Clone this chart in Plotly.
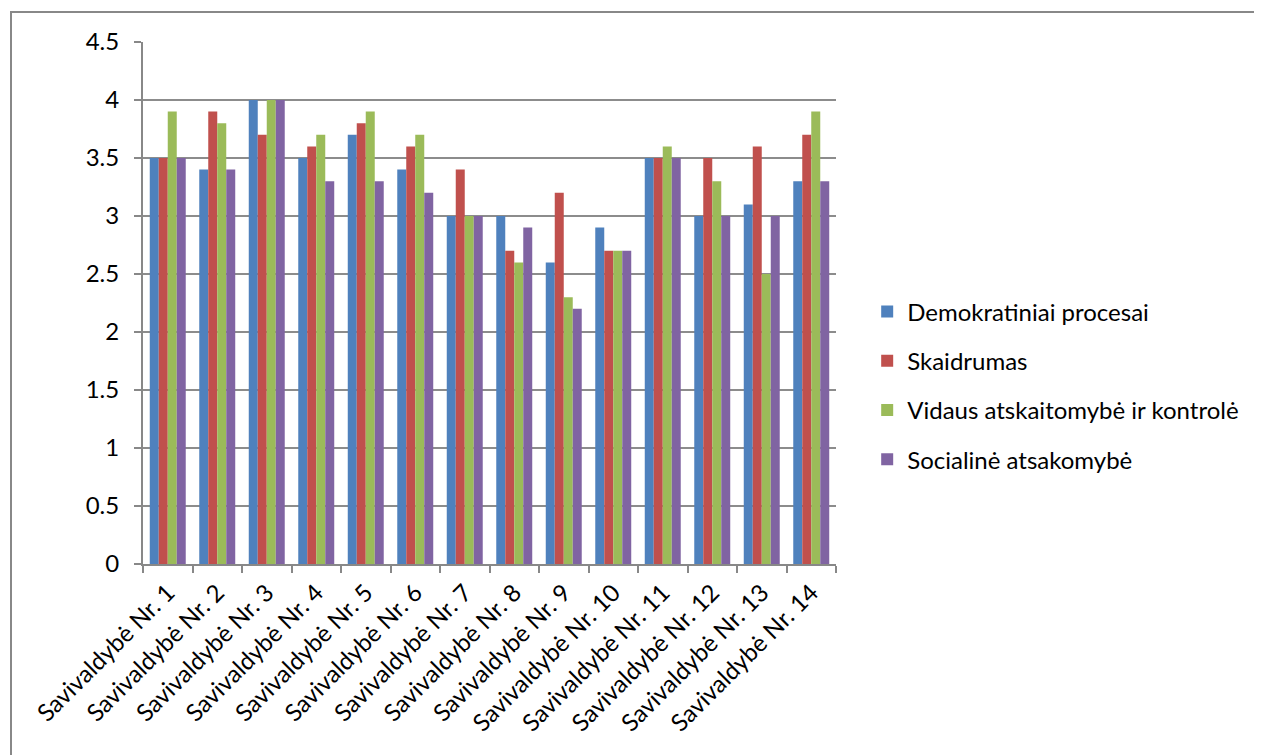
import plotly.graph_objects as go

categories = [f"Savivaldybė Nr. {i}" for i in range(1, 15)]
series_names = ["Demokratiniai procesai", "Skaidrumas",
                "Vidaus atskaitomybė ir kontrolė", "Socialinė atsakomybė"]
demokratiniai = [3.5, 3.4, 4.0, 3.5, 3.7, 3.4, 3.0, 3.0, 2.6, 2.9, 3.5, 3.0, 3.1, 3.3]
skaidrumas = [3.5, 3.9, 3.7, 3.6, 3.8, 3.6, 3.4, 2.7, 3.2, 2.7, 3.5, 3.5, 3.6, 3.7]
vidaus = [3.9, 3.8, 4.0, 3.7, 3.9, 3.7, 3.0, 2.6, 2.3, 2.7, 3.6, 3.3, 2.5, 3.9]
socialine = [3.5, 3.4, 4.0, 3.3, 3.3, 3.2, 3.0, 2.9, 2.2, 2.7, 3.5, 3.0, 3.0, 3.3]
colors = ["#4F81BD", "#C0504D", "#9BBB59", "#8064A2"]
y_ticks = [0, 0.5, 1, 1.5, 2, 2.5, 3, 3.5, 4, 4.5]
y_tick_labels = ["0", "0.5", "1", "1.5", "2", "2.5", "3", "3.5", "4", "4.5"]

FONT = "Lato, Calibri, sans-serif"
FS = 24

fig = go.Figure()
for name, vals, col in zip(series_names, [demokratiniai, skaidrumas, vidaus, socialine], colors):
    fig.add_trace(go.Bar(name=name, x=categories, y=vals,
                         marker=dict(color=col, line=dict(width=0)),
                         legendgroup=name))

OFF = 8  # page body margin
W, H = 1262, 755
L, R, T, B = 143, 836, 42, 564  # plot area in page pixels
fig.update_layout(
    width=W, height=H,
    margin=dict(l=L - OFF, r=W + OFF - R, t=T - OFF, b=H + OFF - B, autoexpand=False),
    paper_bgcolor="white", plot_bgcolor="white",
    barmode="group", bargap=0.273, bargroupgap=0,
    font=dict(family=FONT, size=FS, color="black"),
    showlegend=True,
    legend=dict(x=1.045, xanchor="left", y=0.342, yanchor="middle",
                font=dict(family=FONT, size=FS, color="black"),
                tracegroupgap=15, itemwidth=30, bgcolor="rgba(0,0,0,0)"),
    xaxis=dict(type="category", showgrid=False, showline=True, linecolor="#888888",
               linewidth=2, ticks="outside", tickson="boundaries", ticklen=7,
               tickcolor="#888888", tickwidth=2, tickangle=-45,
               ticklabelstandoff=3,
               tickfont=dict(family=FONT, size=FS, color="black")),
    yaxis=dict(range=[0, 4.5], tickvals=y_ticks, ticktext=y_tick_labels,
               showgrid=True, gridcolor="#8c8c8c", gridwidth=2,
               showline=True, linecolor="#888888", linewidth=2,
               ticks="outside", ticklen=7, tickcolor="#888888", tickwidth=2,
               zeroline=False, ticklabelstandoff=10,
               tickfont=dict(family=FONT, size=FS, color="black")),
)

pw, ph = R - L, B - T
def px2x(px):
    return (px - L) / pw
def py2y(py):
    return (B - py) / ph

border = dict(color="#888888", width=2)
# outer chart frame: only its left and top edges fall inside the picture
fig.add_shape(type="line", xref="paper", yref="paper",
              x0=px2x(11), x1=px2x(11), y0=py2y(11), y1=py2y(770), line=border)
fig.add_shape(type="line", xref="paper", yref="paper",
              x0=px2x(10), x1=px2x(1280), y0=py2y(12), y1=py2y(12), line=border)

fig.write_html("out.html")
